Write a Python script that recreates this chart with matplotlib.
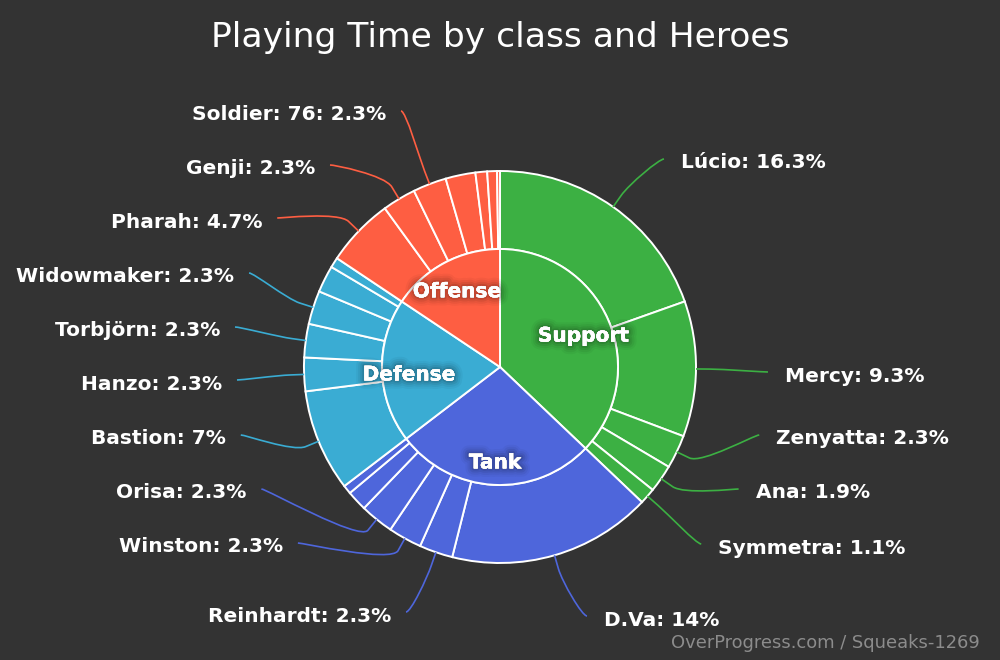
import numpy as np
import matplotlib
matplotlib.use("Agg")
import matplotlib.pyplot as plt
from matplotlib.path import Path
from matplotlib.patches import PathPatch
import matplotlib.patheffects as pe

# ---------------- data ----------------
title = "Playing Time by class and Heroes"
credit = "OverProgress.com / Squeaks-1269"

classes = ["Support", "Tank", "Defense", "Offense"]

support_heroes = ["Lúcio", "Mercy", "Zenyatta", "Ana", "Symmetra"]
support_values = [16.3, 9.3, 2.3, 1.9, 1.1]

tank_heroes = ["D.Va", "Reinhardt", "Winston", "Orisa", "Roadhog", "Zarya"]
tank_values = [14, 2.3, 2.3, 2.3, 1.4, 0.6]

defense_heroes = ["Bastion", "Hanzo", "Torbjörn", "Widowmaker", "Junkrat", "Mei"]
defense_values = [7, 2.3, 2.3, 2.3, 1.85, 0.7]

offense_heroes = ["Pharah", "Genji", "Soldier: 76", "Tracer", "McCree", "Reaper", "Sombra"]
offense_values = [4.7, 2.3, 2.3, 2.05, 0.8, 0.67, 0.2]

labeled_heroes = ["Lúcio", "Mercy", "Zenyatta", "Ana", "Symmetra",
                  "D.Va", "Reinhardt", "Winston", "Orisa",
                  "Bastion", "Hanzo", "Torbjörn", "Widowmaker",
                  "Pharah", "Genji", "Soldier: 76"]

# ---------------- style / layout ----------------
class_colors = ["#3cb043", "#4e66db", "#3aacd3", "#fe5e42"]
bg = "#333333"
W, H = 1000, 660
cx, cy_img = 500, 367
R_out, R_in = 196, 118
label_r = 268          # radius of the label circle (pie radius + distance)
break_off = 14         # connector break offset outside the ring
gap_right, gap_left = 17, 15

# vertical label positions (image y of label centre), layout only
label_y = {"Lúcio": 161, "Mercy": 374, "Zenyatta": 437, "Ana": 491, "Symmetra": 546,
           "D.Va": 618, "Reinhardt": 614, "Winston": 545, "Orisa": 491,
           "Bastion": 437, "Hanzo": 382, "Torbjörn": 329, "Widowmaker": 275,
           "Pharah": 220, "Genji": 167, "Soldier: 76": 113}
label_x_override = {"Soldier: 76": 401, "D.Va": 587, "Reinhardt": 406,
                    "Lúcio": 664, "Genji": 330, "Hanzo": 237}

groups = [support_heroes, tank_heroes, defense_heroes, offense_heroes]
group_vals = [support_values, tank_values, defense_values, offense_values]

heroes = [h for g in groups for h in g]
values = [v for g in group_vals for v in g]
hero_colors = [class_colors[i] for i, g in enumerate(groups) for _ in g]
class_totals = [sum(g) for g in group_vals]

fig = plt.figure(figsize=(W / 100, H / 100), dpi=100, facecolor=bg)
ax = fig.add_axes([0, 0, 1, 1])
ax.set_facecolor(bg)

cy = H - cy_img

ax.pie(values, colors=hero_colors, radius=R_out, center=(cx, cy),
       startangle=90, counterclock=False,
       wedgeprops=dict(width=R_out - R_in, edgecolor="white", linewidth=1.4))
ax.pie(class_totals, colors=class_colors, radius=R_in, center=(cx, cy),
       startangle=90, counterclock=False,
       wedgeprops=dict(edgecolor="white", linewidth=1.4))

ax.set_xlim(0, W)
ax.set_ylim(0, H)
ax.set_aspect("equal")
ax.axis("off")

total = sum(values)

# class labels inside inner pie
shadow = [pe.withStroke(linewidth=12, foreground=(0, 0, 0, 0.035)),
          pe.withStroke(linewidth=9, foreground=(0, 0, 0, 0.05)),
          pe.withStroke(linewidth=6, foreground=(0, 0, 0, 0.07)),
          pe.withStroke(linewidth=3, foreground=(0, 0, 0, 0.10)),
          pe.Normal()]
cum = 0
for name, tot in zip(classes, class_totals):
    mid = (cum + tot / 2) / total * 360
    cum += tot
    th = np.radians(90 - mid)
    r = R_in - 27
    ax.text(cx + r * np.cos(th), cy + r * np.sin(th) - 5, name, color="white",
            fontsize=14.5, fontweight="bold", ha="center", va="center",
            path_effects=shadow)

# hero labels with connectors
cum = 0
for name, v, col in zip(heroes, values, hero_colors):
    mid = (cum + v / 2) / total * 360
    cum += v
    if name not in labeled_heroes:
        continue
    th = np.radians(90 - mid)
    right = mid < 180
    sgn = 1 if right else -1
    touch = np.array([cx + R_out * np.cos(th), cy + R_out * np.sin(th)])
    brk = np.array([cx + (R_out + break_off) * np.cos(th),
                    cy + (R_out + break_off) * np.sin(th)])
    ly = H - label_y[name] + 2
    dy = np.clip((ly - cy) / label_r, -1, 1)
    lx = cx + sgn * np.cos(np.arcsin(dy)) * label_r
    if name in label_x_override:
        lx = label_x_override[name]
    verts = [(lx, ly), (lx - sgn * 5, ly), tuple(2 * brk - touch), tuple(brk),
             tuple(touch)]
    codes = [Path.MOVETO, Path.CURVE4, Path.CURVE4, Path.CURVE4, Path.LINETO]
    ax.add_patch(PathPatch(Path(verts, codes), fill=False, edgecolor=col,
                           linewidth=1.2))
    gap = gap_right if right else gap_left
    ax.text(lx + sgn * gap, ly - 4, f"{name}: {v:g}%", color="white",
            fontsize=14.5, fontweight="bold", ha="left" if right else "right",
            va="center")

ax.text(W / 2, H - 37, title, color="white", fontsize=24.8, ha="center",
        va="center")
ax.text(980, H - 643, credit, color="#8c8c8c", fontsize=12.9, ha="right",
        va="center")

fig.savefig("out.png", dpi=100, facecolor=bg)
